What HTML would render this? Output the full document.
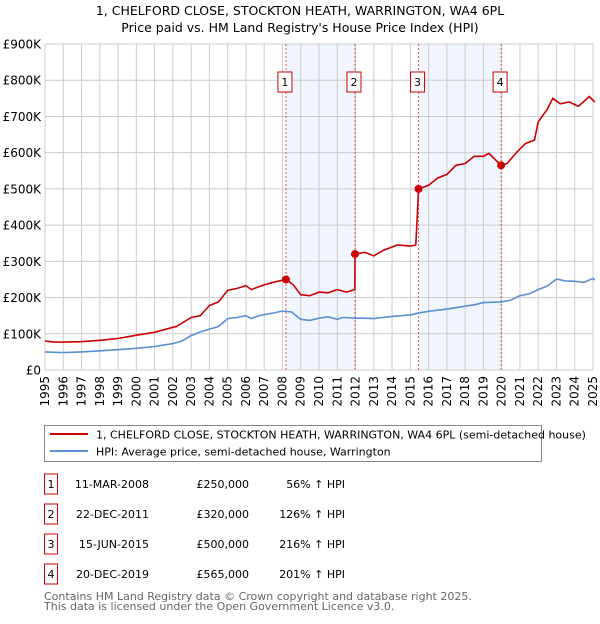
<!DOCTYPE html>
<html><head><meta charset="utf-8"><style>
body{margin:0;width:600px;height:620px;background:#fff;font-family:"DejaVu Sans","Liberation Sans",sans-serif;overflow:hidden}
svg text{font-family:"DejaVu Sans","Liberation Sans",sans-serif}
</style></head><body>
<svg id="c" width="600" height="620" xmlns="http://www.w3.org/2000/svg">
<text x="300" y="15" font-size="12.5" text-anchor="middle">1, CHELFORD CLOSE, STOCKTON HEATH, WARRINGTON, WA4 6PL</text>
<text x="300" y="32" font-size="12.5" text-anchor="middle">Price paid vs. HM Land Registry's House Price Index (HPI)</text>
<g id="plot"></g>
<g>
<rect x="44.5" y="425.5" width="497" height="36" fill="#fff" stroke="#888"/>
<line x1="50" y1="434" x2="88" y2="434" stroke="#cc0000" stroke-width="2"/>
<text x="96" y="438.5" font-size="11">1, CHELFORD CLOSE, STOCKTON HEATH, WARRINGTON, WA4 6PL (semi-detached house)</text>
<line x1="50" y1="451" x2="88" y2="451" stroke="#5b8fd4" stroke-width="2"/>
<text x="96" y="455.5" font-size="11">HPI: Average price, semi-detached house, Warrington</text>
</g>
<g id="table"></g>
<text x="44" y="600" font-size="11" fill="#666">Contains HM Land Registry data © Crown copyright and database right 2025.</text>
<text x="44" y="610" font-size="11" fill="#666">This data is licensed under the Open Government Licence v3.0.</text>
</svg>
<script>
const years=[1995,1996,1997,1998,1999,2000,2001,2002,2003,2004,2005,2006,2007,2008,2009,2010,2011,2012,2013,2014,2015,2016,2017,2018,2019,2020,2021,2022,2023,2024,2025];
const yTicks=[0,100000,200000,300000,400000,500000,600000,700000,800000,900000];
const yTickLabels=["£0","£100K","£200K","£300K","£400K","£500K","£600K","£700K","£800K","£900K"];
const hpiT=[1995,1995.5,1996,1997,1998,1999,2000,2001,2002,2002.5,2003,2003.5,2004,2004.5,2005,2005.5,2006,2006.3,2006.6,2007,2007.5,2008,2008.5,2009,2009.5,2010,2010.5,2011,2011.3,2012,2012.5,2013,2014,2015,2015.5,2016,2017,2018,2018.5,2019,2020,2020.5,2021,2021.5,2022,2022.5,2023,2023.5,2024,2024.5,2025,2025.1];
const hpiV=[50,49,48,50,53,56,60,65,73,80,95,105,113,120,142,145,150,142,148,153,157,163,160,140,137,143,147,140,145,143,143,142,148,152,158,162,168,176,180,186,188,193,205,210,222,232,251,246,245,242,253,248];
const priceT=[1995,1995.5,1996,1997,1998,1999,2000,2001,2002,2002.2,2003,2003.5,2004,2004.5,2005,2005.5,2006,2006.3,2006.7,2007,2007.5,2008.19,2008.6,2009,2009.5,2010,2010.5,2011,2011.5,2011.96,2011.97,2012.5,2013,2013.5,2014.3,2015,2015.3,2015.45,2016,2016.5,2017,2017.5,2018,2018.5,2019,2019.3,2019.97,2020.3,2020.8,2021.3,2021.8,2022,2022.5,2022.8,2023.2,2023.7,2024.2,2024.8,2025.1];
const priceV=[80,77,77,78,82,87,96,104,118,120,145,150,178,188,220,225,233,222,230,235,242,250,235,208,205,215,213,222,215,222,320,325,315,330,345,342,345,500,510,530,540,565,570,590,590,598,565,570,600,625,635,685,720,750,735,740,728,755,740];
const saleT=[2008.19,2011.97,2015.45,2019.97];
const saleV=[250000,320000,500000,565000];
const saleLabels=["1","2","3","4"];
const saleDates=["11-MAR-2008","22-DEC-2011","15-JUN-2015","20-DEC-2019"];
const salePrices=["£250,000","£320,000","£500,000","£565,000"];
const saleHpi=["56% ↑ HPI","126% ↑ HPI","216% ↑ HPI","201% ↑ HPI"];
const X0=45,X1=593,Y0=370,Y1=44;
const x=t=>X0+(t-1995)/(2025-1995)*(X1-X0);
const y=v=>Y0-v/900000*(Y0-Y1);
const NS="http://www.w3.org/2000/svg";
const plot=document.getElementById('plot');
function mk(tag,attrs,parent){const e=document.createElementNS(NS,tag);for(const k in attrs)e.setAttribute(k,attrs[k]);(parent||plot).appendChild(e);return e;}
// shading
for(let i=0;i<saleT.length;i+=2){const r=mk('rect',{x:x(saleT[i]),y:Y1,width:x(saleT[i+1])-x(saleT[i]),height:Y0-Y1,fill:'#eef3fc',opacity:0.8});

}
// grid
years.forEach(yr=>{const l=mk('line',{x1:x(yr),x2:x(yr),y1:Y1,y2:Y0,stroke:'#ccc','stroke-width':1});


const t=mk('text',{x:0,y:0,'font-size':12,'text-anchor':'end',transform:`translate(${x(yr)+4},${Y0+6}) rotate(-90)`});t.textContent=yr;

});
yTicks.forEach((v,i)=>{const l=mk('line',{x1:X0,x2:X1,y1:y(v),y2:y(v),stroke:'#ccc','stroke-width':1});


const t=mk('text',{x:X0-4,y:y(v)+4.5,'font-size':12,'text-anchor':'end'});t.textContent=yTickLabels[i];

});
mk('rect',{x:X0,y:Y1,width:X1-X0,height:Y0-Y1,fill:'none',stroke:'#ccc'});
// sale lines
saleT.forEach((t,i)=>{const l=mk('line',{x1:x(t),x2:x(t),y1:Y1,y2:Y0,stroke:'#e05050','stroke-width':1,'stroke-dasharray':'2,2'});


const g=mk('g',{});


mk('rect',{x:x(t)-8,y:72,width:14,height:20,fill:'#fff',stroke:'#cc0000'},g);
const tx=mk('text',{x:x(t)-1,y:86,'font-size':11,'text-anchor':'middle'},g);tx.textContent=saleLabels[i];});
const path=(T,V,c,n)=>{const p=mk('path',{d:T.map((t,i)=>(i?'L':'M')+x(t).toFixed(1)+','+y(V[i]*1000).toFixed(1)).join(''),fill:'none',stroke:c,'stroke-width':1.6});

};
path(hpiT,hpiV,'#5b8fd4','hpi-line');
path(priceT,priceV,'#cc0000','price-line');
saleT.forEach((t,i)=>{const c=mk('circle',{cx:x(t),cy:y(saleV[i]),r:4,fill:'#cc0000'});

});
// table
const tb=document.getElementById('table');
saleLabels.forEach((s,i)=>{const yy=482+i*30;
const g=mk('g',{},tb);


mk('rect',{x:44.5,y:yy-8,width:13,height:20,fill:'#fff',stroke:'#cc0000'},g);
const a=mk('text',{x:51,y:yy+6,'font-size':11,'text-anchor':'middle'},g);a.textContent=s;
const b=mk('text',{x:149,y:yy+6,'font-size':11,'text-anchor':'end'},g);b.textContent=saleDates[i];
const c=mk('text',{x:249,y:yy+6,'font-size':11,'text-anchor':'end'},g);c.textContent=salePrices[i];
const d=mk('text',{x:345,y:yy+6,'font-size':11,'text-anchor':'end'},g);d.textContent=saleHpi[i];});
</script>
</body></html>
